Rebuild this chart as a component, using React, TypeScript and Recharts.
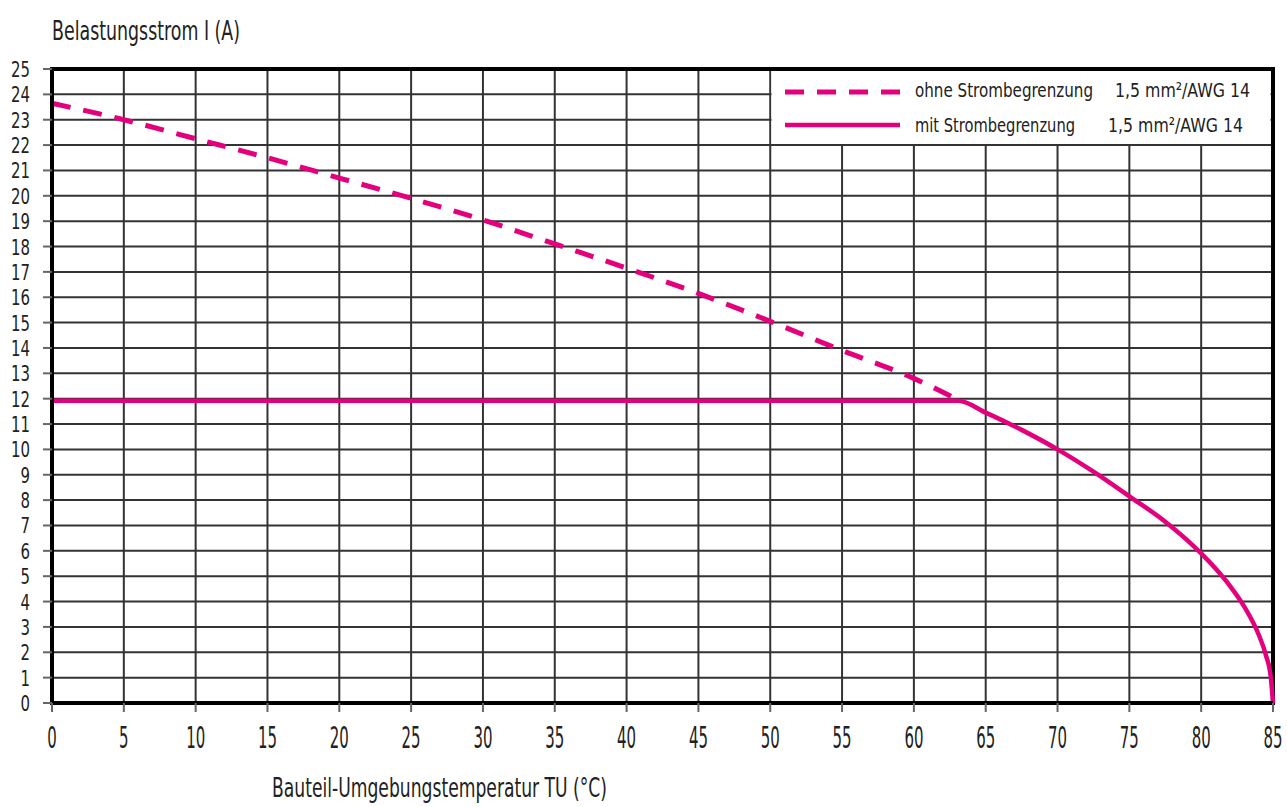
import React from 'react';
import { LineChart, Line, XAxis, YAxis, CartesianGrid, ReferenceArea } from 'recharts';

const MAGENTA = '#e4007c';
const FONT = "'Liberation Sans Narrow', 'DejaVu Sans Condensed', 'Liberation Sans', sans-serif";

const xTicks = [0, 5, 10, 15, 20, 25, 30, 35, 40, 45, 50, 55, 60, 65, 70, 75, 80, 85];
const yTicks = [0, 1, 2, 3, 4, 5, 6, 7, 8, 9, 10, 11, 12, 13, 14, 15, 16, 17, 18, 19, 20, 21, 22, 23, 24, 25];

// ohne Strombegrenzung (dashed)
const dashedT = [0, 5, 10, 15, 20, 25, 30, 35, 40, 45, 50, 55, 60, 63.1];
const dashedI = [23.65, 23.0, 22.25, 21.5, 20.7, 19.9, 19.05, 18.1, 17.15, 16.15, 15.05, 13.9, 12.8, 11.95];

// mit Strombegrenzung (solid)
const solidT = [0, 63.1, 65, 67.5, 70, 72.5, 75, 77.5, 80, 81, 82, 83, 84, 84.5, 84.85, 85];
const solidI = [11.92, 11.92, 11.45, 10.77, 10.0, 9.12, 8.15, 7.15, 5.9, 5.3, 4.62, 3.8, 2.7, 1.9, 1.0, 0];

const yTitle = 'Belastungsstrom I (A)';
const xTitle = 'Bauteil-Umgebungstemperatur TU (°C)';
const seriesNames = ['ohne Strombegrenzung', 'mit Strombegrenzung'];
const seriesSpec = ['1,5 mm²/AWG 14', '1,5 mm²/AWG 14'];

const dashedData = dashedT.map((t, i) => ({ t, v: dashedI[i] }));
const solidData = solidT.map((t, i) => ({ t, v: solidI[i] }));

const XTick = (props: any) => {
  const { x, payload } = props;
  const s = String(payload.value);
  return (
    <g>
      <line x1={x} x2={x} y1={703} y2={712} stroke="#666" strokeWidth={2} />
      <text
        x={x}
        y={748}
        textAnchor="middle"
        fontFamily={FONT}
        fontSize={30}
        fill="#222"
        textLength={s.length * 9.5}
        lengthAdjust="spacingAndGlyphs"
      >
        {s}
      </text>
    </g>
  );
};

const YTick = (props: any) => {
  const { y, payload } = props;
  const s = String(payload.value);
  return (
    <g>
      <line x1={43} x2={52} y1={y} y2={y} stroke="#666" strokeWidth={2} />
      <text
        x={30}
        y={y + 8}
        textAnchor="end"
        fontFamily={FONT}
        fontSize={22}
        fill="#222"
        textLength={s.length * 9.5}
        lengthAdjust="spacingAndGlyphs"
      >
        {s}
      </text>
    </g>
  );
};

export default function App() {
  return (
    <div style={{ position: 'absolute', left: 0, top: 0, width: 1287, height: 807, background: '#fff' }}>
      <LineChart
        width={1287}
        height={807}
        margin={{ top: 69, right: 14, bottom: 0, left: 0 }}
      >
        <CartesianGrid stroke="#333" strokeWidth={2} />
        <XAxis
          type="number"
          dataKey="t"
          domain={[0, 85]}
          ticks={xTicks}
          interval={0}
          height={104}
          axisLine={{ stroke: '#000', strokeWidth: 4 }}
          tickLine={false}
          tick={<XTick />}
          allowDuplicatedCategory={false}
        />
        <YAxis
          type="number"
          dataKey="v"
          domain={[0, 25]}
          ticks={yTicks}
          interval={0}
          width={52}
          axisLine={{ stroke: '#000', strokeWidth: 4 }}
          tickLine={false}
          tick={<YTick />}
        />
        <ReferenceArea x1={0} x2={85} y1={0} y2={25} fill="none" stroke="#000" strokeWidth={4} ifOverflow="visible" />
        <Line
          data={dashedData}
          dataKey="v"
          type="monotone"
          stroke={MAGENTA}
          strokeWidth={5}
          strokeDasharray="19 13"
          dot={false}
          isAnimationActive={false}
        />
        <Line
          data={solidData}
          dataKey="v"
          type="monotone"
          stroke={MAGENTA}
          strokeWidth={4.5}
          dot={false}
          isAnimationActive={false}
        />
      </LineChart>
      <svg
        width={1287}
        height={807}
        style={{ position: 'absolute', left: 0, top: 0, pointerEvents: 'none' }}
      >
        <text x={52} y={40} fontFamily={FONT} fontSize={27} fill="#222" textLength={188} lengthAdjust="spacingAndGlyphs">
          {yTitle}
        </text>
        <text x={272} y={797} fontFamily={FONT} fontSize={27} fill="#222" textLength={335} lengthAdjust="spacingAndGlyphs">
          {xTitle}
        </text>
        {/* legend */}
        <rect x={771.5} y={71} width={499} height={73} fill="#fff" />
        <line x1={785} x2={900} y1={92} y2={92} stroke={MAGENTA} strokeWidth={5} strokeDasharray="19 13" />
        <line x1={785} x2={900} y1={125} y2={125} stroke={MAGENTA} strokeWidth={4.5} />
        <text x={915} y={97} fontFamily={FONT} fontSize={20} fill="#222" textLength={178} lengthAdjust="spacingAndGlyphs">
          {seriesNames[0]}
        </text>
        <text x={1115} y={97} fontFamily={FONT} fontSize={20} fill="#222" textLength={135} lengthAdjust="spacingAndGlyphs">
          {seriesSpec[0]}
        </text>
        <text x={915} y={132} fontFamily={FONT} fontSize={20} fill="#222" textLength={160} lengthAdjust="spacingAndGlyphs">
          {seriesNames[1]}
        </text>
        <text x={1108} y={132} fontFamily={FONT} fontSize={20} fill="#222" textLength={135} lengthAdjust="spacingAndGlyphs">
          {seriesSpec[1]}
        </text>
      </svg>
    </div>
  );
}
